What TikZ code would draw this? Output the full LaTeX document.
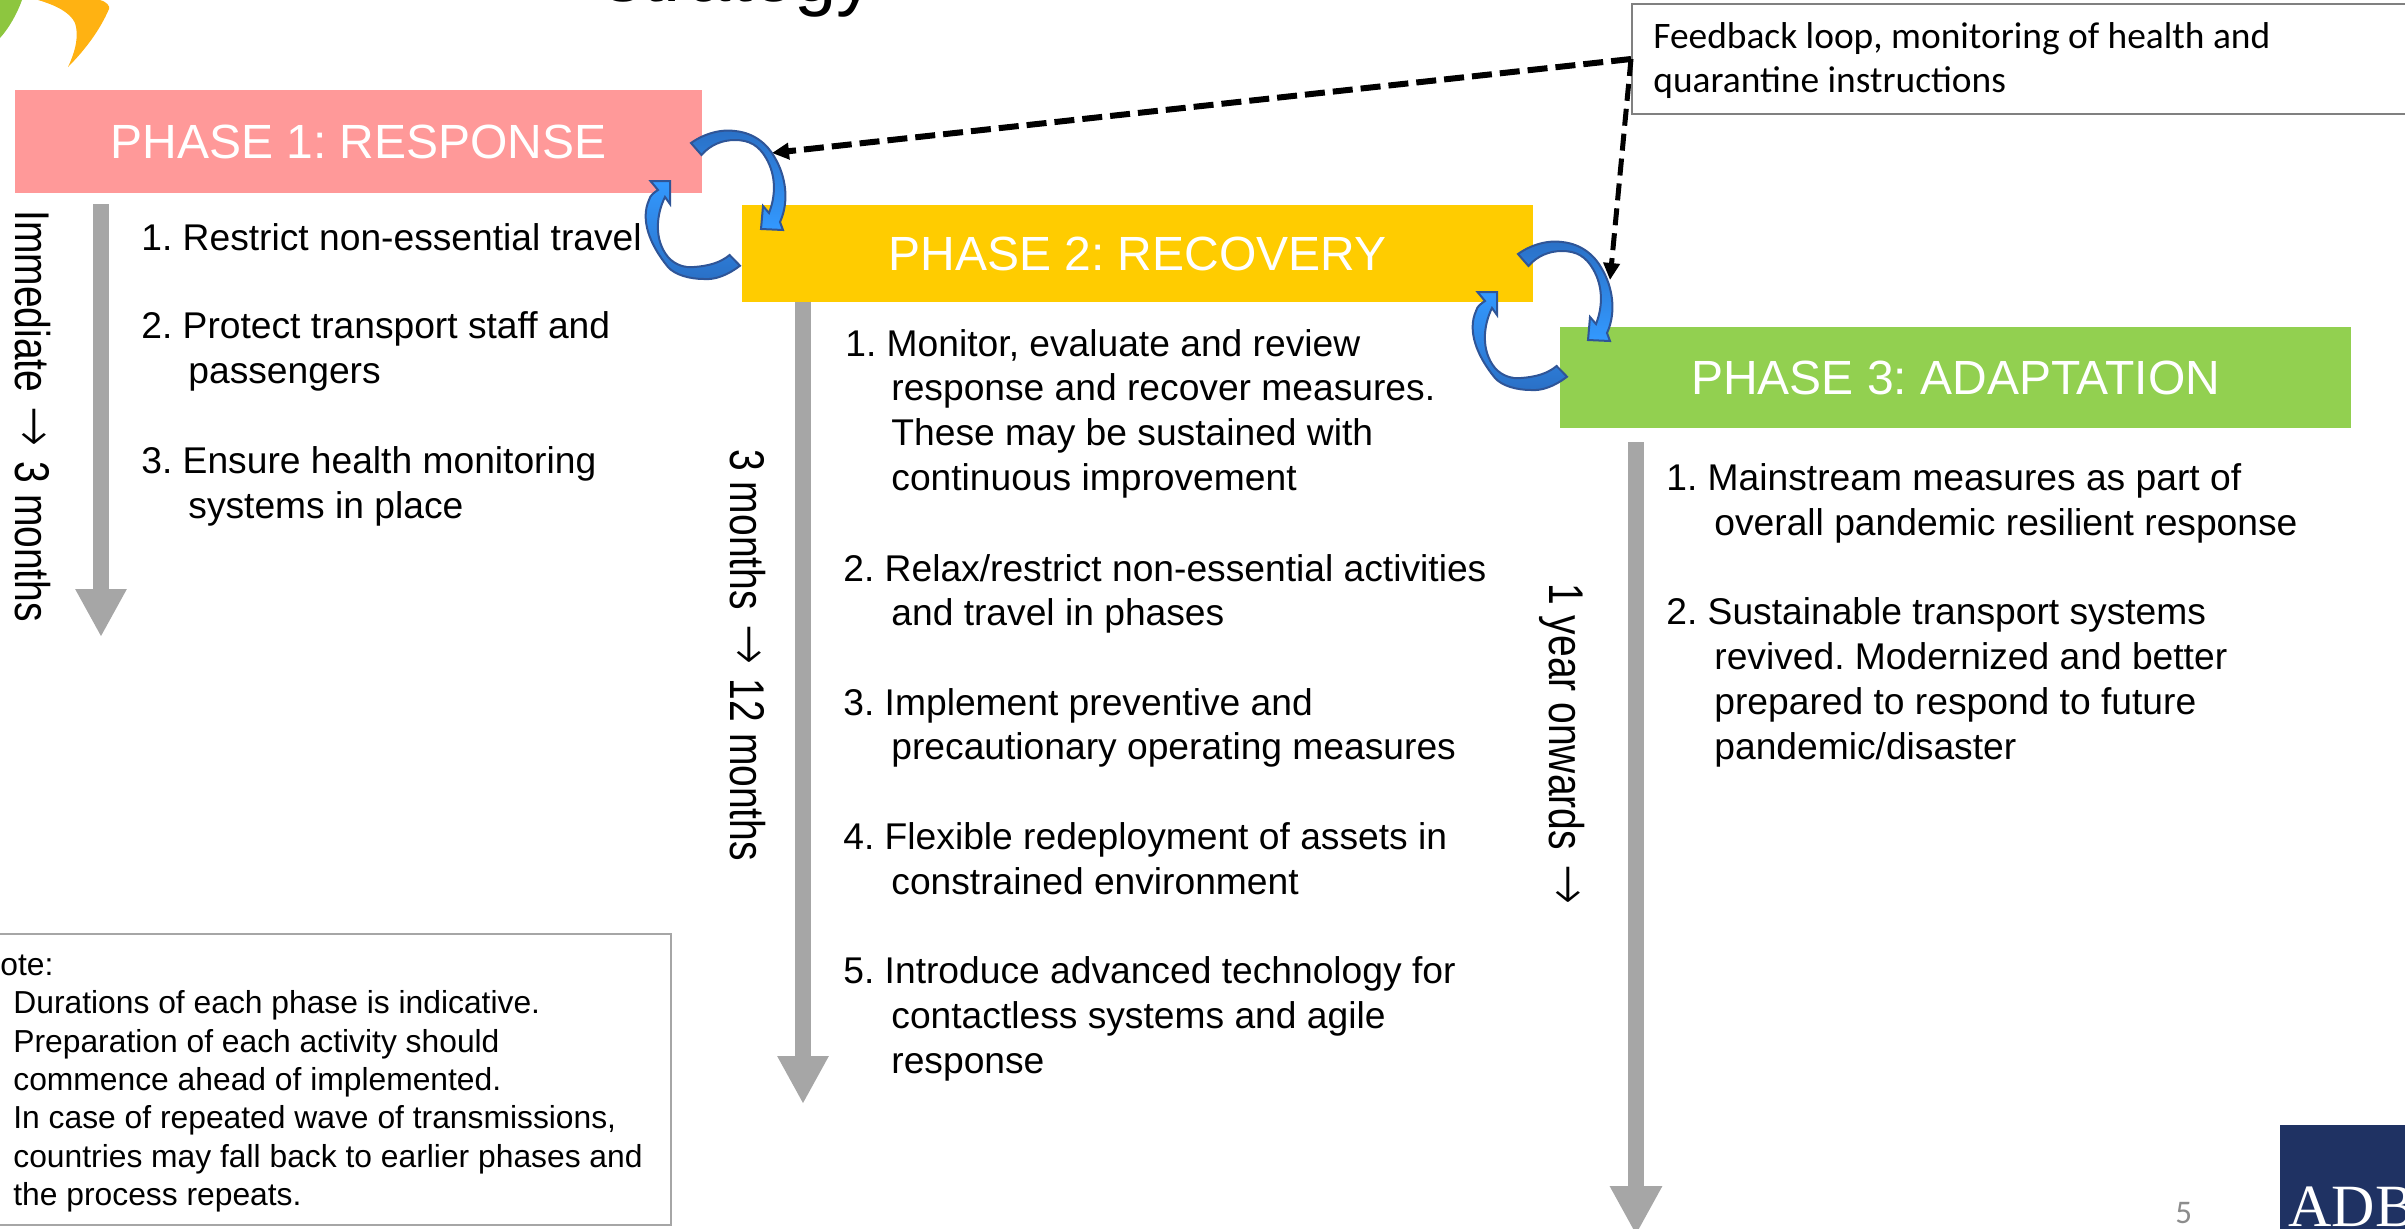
\documentclass[tikz,border=0pt]{standalone}
\usepackage{fontspec}
\setmainfont{Liberation Sans}
\newfontfamily\calibfont{Carlito}
\newfontfamily\timesfont{Liberation Serif}
\newfontfamily\arrowfont{DejaVu Sans ExtraLight}
\usetikzlibrary{arrows.meta}
\definecolor{phaseone}{HTML}{FF9999}
\definecolor{phasetwo}{HTML}{FFCC00}
\definecolor{phasethree}{HTML}{92D050}
\definecolor{timegray}{HTML}{A6A6A6}
\definecolor{loopdark}{HTML}{2A70C6}
\definecolor{looplight}{HTML}{3399FF}
\definecolor{loopline}{HTML}{2F5597}
\definecolor{adbnavy}{HTML}{1F3263}
\definecolor{logoorange}{HTML}{FFB212}
\definecolor{logogreen}{HTML}{8DC63F}
\newcommand{\timearrowglyph}{\hspace{1.8pt}{\arrowfont\fontsize{24pt}{24pt}\selectfont →}\hspace{1.8pt}}
\tikzset{
  phasebox/.style={inner sep=0pt,text=white,font=\fontsize{24pt}{28pt}\selectfont},
  bodyln/.style={anchor=base west,inner sep=0pt,font=\fontsize{18.6pt}{22pt}\selectfont},
  noteln/.style={anchor=base west,inner sep=0pt,font=\fontsize{15.9pt}{19pt}\selectfont},
  fbln/.style={anchor=base west,inner sep=0pt,font=\calibfont\fontsize{18.7pt}{22pt}\selectfont},
  timeln/.style={rotate=-90,anchor=base west,inner sep=0pt,font=\fontsize{19.5pt}{24pt}\selectfont},
  timearrow/.style={draw=timegray,line width=8pt},
  fbarrow/.style={draw=black,-{Triangle[length=8.5pt,width=8pt]}},
  loopup/.style={top color=looplight,bottom color=loopdark,draw=loopline,line width=1pt},
  loopdown/.style={top color=loopdark,bottom color=looplight,draw=loopline,line width=1pt},
}
\newcommand{\looppair}{%
  \path[loopdown] (691,143) .. controls (705,133) and (722,129) .. (735,131)
    .. controls (755,133) and (768,145) .. (775,158)
    .. controls (785,175) and (790,200) .. (780,222)
    -- (783,230) -- (761,229) -- (763,206) -- (769,213)
    .. controls (776,195) and (776,175) .. (766,158)
    .. controls (759,146) and (750,140) .. (735,140)
    .. controls (722,140) and (710,145) .. (701.5,155) -- cycle;
  \path[loopup] (650.5,181) -- (670,181) -- (670,204) -- (665,197)
    .. controls (656,215) and (654,240) .. (668,257)
    .. controls (675,265) and (685,268) .. (694,267)
    .. controls (708,266) and (720,263) .. (729.6,255)
    -- (740,265.7)
    .. controls (728,275) and (715,280) .. (704,279)
    .. controls (690,279) and (675,275) .. (668,267)
    .. controls (650,245) and (640,220) .. (649,200)
    .. controls (650,195) and (655,192) .. (658,190) -- cycle;
}
\begin{document}
\frenchspacing
\begin{tikzpicture}[x=0.5pt,y=-0.5pt]
\useasboundingbox (0,0) rectangle (2405,1228);
\clip (0,0) rectangle (2405,1228);

% logo fragment
\fill[logoorange] (38,0) -- (100,0) .. controls (107,2) and (110,6) .. (109,9)
  .. controls (100,30) and (85,50) .. (68,67)
  .. controls (76,50) and (79,35) .. (75,23) .. controls (70,12) and (55,5) .. (38,0) -- cycle;
\fill[logogreen] (0,0) -- (22,0) .. controls (17,14) and (9,28) .. (0,38) -- cycle;

% title, only its descenders fall inside the page
\node[anchor=base west,inner sep=0pt,font=\fontsize{38pt}{44pt}\selectfont] (title) at (604,1) {strategy};

% boxes
\node[phasebox,fill=phaseone,minimum width=343.5pt,minimum height=51.5pt] (p1) at (358.5,141.5) {PHASE 1: RESPONSE};
\node[phasebox,fill=phasetwo,minimum width=395.5pt,minimum height=48.5pt] (p2) at (1137.5,253.5) {PHASE 2: RECOVERY};
\node[phasebox,fill=phasethree,minimum width=395.5pt,minimum height=50.5pt] (p3) at (1955.5,377.5) {PHASE 3: ADAPTATION};

% time arrows
\coordinate (a1s) at (101,204); \coordinate (a1e) at (101,637);
\coordinate (a2s) at (803,302); \coordinate (a2e) at (803,1104);
\coordinate (a3s) at (1636,442); \coordinate (a3e) at (1636,1235);
\draw[timearrow,-{Triangle[length=24pt,width=24pt]}] (a1s) -- (a1e);
\draw[timearrow,-{Triangle[length=24pt,width=24pt]}] (a2s) -- (a2e);
\draw[timearrow,-{Triangle[length=24.5pt,width=24.5pt]}] (a3s) -- (a3e);

% rotated labels
\node[timeln] (t1) at (15,210) {\scalebox{1}[1.25]{Immediate \timearrowglyph{} 3 months}};
\node[timeln] (t2) at (730,449) {\scalebox{1}[1.25]{3 months \timearrowglyph{} 12 months}};
\node[timeln] (t3) at (1549,583) {\scalebox{1}[1.25]{1 year onwards \timearrowglyph}};

% phase 1 text
\node[bodyln] (a11) at (141,250) {1. Restrict non-essential travel};
\node[bodyln] (a21) at (141,338) {2. Protect transport staff and};
\node[bodyln] (a22) at (188,383) {passengers};
\node[bodyln] (a31) at (141,473) {3. Ensure health monitoring};
\node[bodyln] (a32) at (188,518) {systems in place};

% phase 2 text
\node[bodyln] (b11) at (845,356) {1. Monitor, evaluate and review};
\node[bodyln] (b12) at (891,400) {response and recover measures.};
\node[bodyln] (b13) at (891,445) {These may be sustained with};
\node[bodyln] (b14) at (891,490) {continuous improvement};
\node[bodyln] (b21) at (843,581) {2. Relax/restrict non-essential activities};
\node[bodyln] (b22) at (891,625) {and travel in phases};
\node[bodyln] (b31) at (843,715) {3. Implement preventive and};
\node[bodyln] (b32) at (891,759) {precautionary operating measures};
\node[bodyln] (b41) at (843,849) {4. Flexible redeployment of assets in};
\node[bodyln] (b42) at (891,894) {constrained environment};
\node[bodyln] (b51) at (843,983) {5. Introduce advanced technology for};
\node[bodyln] (b52) at (891,1028) {contactless systems and agile};
\node[bodyln] (b53) at (891,1073) {response};

% phase 3 text
\node[bodyln] (c11) at (1666,490) {1. Mainstream measures as part of};
\node[bodyln] (c12) at (1714,535) {overall pandemic resilient response};
\node[bodyln] (c21) at (1666,624) {2. Sustainable transport systems};
\node[bodyln] (c22) at (1714,669) {revived. Modernized and better};
\node[bodyln] (c23) at (1714,714) {prepared to respond to future};
\node[bodyln] (c24) at (1714,759) {pandemic/disaster};

% note box
\node[draw=timegray,line width=1pt,minimum width=345.5pt,minimum height=145.5pt,inner sep=0pt] (note) at (325.5,1079.5) {};
\node[noteln] (n0) at (-23,975) {Note:};
\node[noteln] (n1) at (13,1013) {Durations of each phase is indicative.};
\node[noteln] (n2) at (13,1052) {Preparation of each activity should};
\node[noteln] (n3) at (13,1090) {commence ahead of implemented.};
\node[noteln] (n4) at (13,1128) {In case of repeated wave of transmissions,};
\node[noteln] (n5) at (13,1167) {countries may fall back to earlier phases and};
\node[noteln] (n6) at (13,1205) {the process repeats.};

% feedback box
\node[draw=black!50,fill=white,line width=1pt,minimum width=394pt,minimum height=55pt,inner sep=0pt] (fb) at (2026,59) {};
\node[fbln] (f1) at (1653,48) {Feedback loop, monitoring of health and};
\node[fbln] (f2) at (1653,92) {quarantine instructions};

% dashed feedback connectors
\coordinate (fbt1) at (772,153);
\coordinate (fbt2) at (1610,280);
\draw[fbarrow,line width=3pt,dash pattern=on 10pt off 4pt] (fb.west) -- (fbt1);
\draw[fbarrow,line width=2.5pt,dash pattern=on 8.5pt off 4pt] (fb.west) -- (fbt2);

% loop arrows
\looppair
\begin{scope}[shift={(827,111)}]
\looppair
\end{scope}

% page number and ADB logo
\node[anchor=base west,inner sep=0pt,text=black!45,font=\calibfont\fontsize{16.5pt}{20pt}\selectfont] (pg) at (2175,1223) {5};
\node[anchor=north west,fill=adbnavy,minimum width=70pt,minimum height=60pt,inner sep=0pt] (adb) at (2280,1125) {};
\node[anchor=base west,inner sep=0pt,text=white,font=\timesfont\fontsize{30pt}{36pt}\selectfont] (adbt) at (2288,1226) {ADB};
\end{tikzpicture}
\end{document}
